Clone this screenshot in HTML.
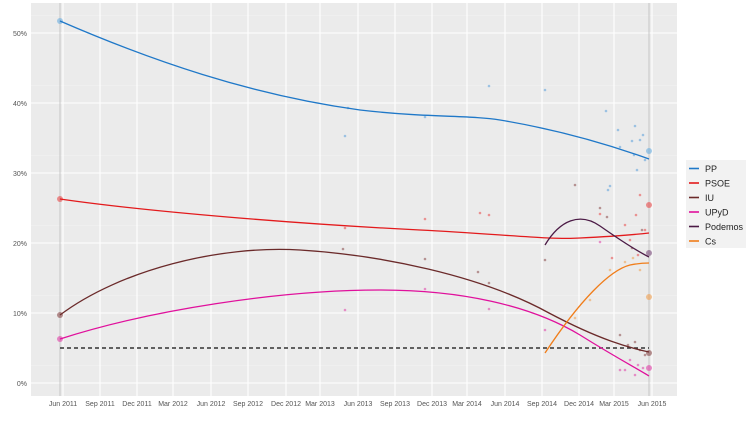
<!DOCTYPE html>
<html><head><meta charset="utf-8"><style>
body{margin:0;background:#fff;}
svg text{font-family:"Liberation Sans",sans-serif;}
</style></head><body>
<svg width="750" height="417" viewBox="0 0 750 417" xmlns="http://www.w3.org/2000/svg">
<rect x="31" y="3" width="646" height="393" fill="#ebebeb"/>
<g stroke="#f4f4f4" stroke-width="0.6">
<line x1="31" x2="677" y1="365.5" y2="365.5"/><line x1="31" x2="677" y1="295.5" y2="295.5"/><line x1="31" x2="677" y1="225.5" y2="225.5"/><line x1="31" x2="677" y1="155.5" y2="155.5"/><line x1="31" x2="677" y1="85.5" y2="85.5"/><line x1="31" x2="677" y1="15.5" y2="15.5"/>
</g>
<g stroke="#fff" stroke-width="1.1">
<line x1="31" x2="677" y1="383" y2="383"/><line x1="31" x2="677" y1="313" y2="313"/><line x1="31" x2="677" y1="243" y2="243"/><line x1="31" x2="677" y1="173" y2="173"/><line x1="31" x2="677" y1="103" y2="103"/><line x1="31" x2="677" y1="33" y2="33"/>
<line x1="63" x2="63" y1="3" y2="396"/><line x1="100" x2="100" y1="3" y2="396"/><line x1="137" x2="137" y1="3" y2="396"/><line x1="173" x2="173" y1="3" y2="396"/><line x1="211" x2="211" y1="3" y2="396"/><line x1="248" x2="248" y1="3" y2="396"/><line x1="286" x2="286" y1="3" y2="396"/><line x1="320" x2="320" y1="3" y2="396"/><line x1="358" x2="358" y1="3" y2="396"/><line x1="395" x2="395" y1="3" y2="396"/><line x1="432" x2="432" y1="3" y2="396"/><line x1="467" x2="467" y1="3" y2="396"/><line x1="505" x2="505" y1="3" y2="396"/><line x1="542" x2="542" y1="3" y2="396"/><line x1="579" x2="579" y1="3" y2="396"/><line x1="614" x2="614" y1="3" y2="396"/><line x1="652" x2="652" y1="3" y2="396"/>
</g>
<line x1="60" x2="60" y1="3" y2="396" stroke="#bbb" stroke-width="0.8"/>
<line x1="649" x2="649" y1="3" y2="396" stroke="#bbb" stroke-width="0.8"/>
<g font-size="7" fill="#555" text-anchor="end">
<text x="27" y="386">0%</text><text x="27" y="316">10%</text><text x="27" y="246">20%</text><text x="27" y="176">30%</text><text x="27" y="106">40%</text><text x="27" y="36">50%</text>
</g>
<g font-size="7" fill="#555" text-anchor="middle">
<text x="63" y="406">Jun 2011</text><text x="100" y="406">Sep 2011</text><text x="137" y="406">Dec 2011</text><text x="173" y="406">Mar 2012</text><text x="211" y="406">Jun 2012</text><text x="248" y="406">Sep 2012</text><text x="286" y="406">Dec 2012</text><text x="320" y="406">Mar 2013</text><text x="358" y="406">Jun 2013</text><text x="395" y="406">Sep 2013</text><text x="432" y="406">Dec 2013</text><text x="467" y="406">Mar 2014</text><text x="505" y="406">Jun 2014</text><text x="542" y="406">Sep 2014</text><text x="579" y="406">Dec 2014</text><text x="614" y="406">Mar 2015</text><text x="652" y="406">Jun 2015</text>
</g>
<g opacity="0.55">
<g fill="#5aa0dc"><circle cx="345" cy="136" r="1.3"/><circle cx="348" cy="108" r="1.3"/><circle cx="425" cy="117" r="1.3"/><circle cx="489" cy="86" r="1.3"/><circle cx="545" cy="90" r="1.3"/><circle cx="606" cy="111" r="1.3"/><circle cx="618" cy="130" r="1.3"/><circle cx="635" cy="126" r="1.3"/><circle cx="640" cy="140" r="1.3"/><circle cx="643" cy="135" r="1.3"/><circle cx="634" cy="155" r="1.3"/><circle cx="637" cy="170" r="1.3"/><circle cx="608" cy="190" r="1.3"/><circle cx="620" cy="147" r="1.3"/><circle cx="632" cy="141" r="1.3"/><circle cx="645" cy="160" r="1.3"/><circle cx="610" cy="186" r="1.3"/></g>
<g fill="#e84a4a"><circle cx="345" cy="228" r="1.3"/><circle cx="425" cy="219" r="1.3"/><circle cx="480" cy="213" r="1.3"/><circle cx="489" cy="215" r="1.3"/><circle cx="600" cy="214" r="1.3"/><circle cx="625" cy="225" r="1.3"/><circle cx="640" cy="195" r="1.3"/><circle cx="636" cy="215" r="1.3"/><circle cx="645" cy="230" r="1.3"/><circle cx="630" cy="240" r="1.3"/><circle cx="638" cy="255" r="1.3"/><circle cx="612" cy="258" r="1.3"/></g>
<g fill="#8a4a4a"><circle cx="343" cy="249" r="1.3"/><circle cx="425" cy="259" r="1.3"/><circle cx="478" cy="272" r="1.3"/><circle cx="489" cy="283" r="1.3"/><circle cx="545" cy="260" r="1.3"/><circle cx="600" cy="208" r="1.3"/><circle cx="607" cy="217" r="1.3"/><circle cx="575" cy="185" r="1.3"/><circle cx="620" cy="335" r="1.3"/><circle cx="635" cy="342" r="1.3"/><circle cx="645" cy="355" r="1.3"/><circle cx="628" cy="345" r="1.3"/><circle cx="640" cy="350" r="1.3"/><circle cx="642" cy="230" r="1.3"/><circle cx="632" cy="248" r="1.3"/></g>
<g fill="#e040a8"><circle cx="345" cy="310" r="1.3"/><circle cx="425" cy="289" r="1.3"/><circle cx="489" cy="309" r="1.3"/><circle cx="545" cy="330" r="1.3"/><circle cx="620" cy="370" r="1.3"/><circle cx="625" cy="370" r="1.3"/><circle cx="635" cy="375" r="1.3"/><circle cx="643" cy="368" r="1.3"/><circle cx="600" cy="242" r="1.3"/><circle cx="630" cy="360" r="1.3"/><circle cx="638" cy="365" r="1.3"/></g>
<g fill="#f0a050"><circle cx="575" cy="318" r="1.3"/><circle cx="610" cy="270" r="1.3"/><circle cx="625" cy="262" r="1.3"/><circle cx="640" cy="270" r="1.3"/><circle cx="590" cy="300" r="1.3"/><circle cx="633" cy="258" r="1.3"/></g>
</g>
<g opacity="0.6">
<circle cx="60" cy="21" r="3" fill="#6aaee0"/><circle cx="60" cy="199" r="3" fill="#e84a4a"/><circle cx="60" cy="315" r="3" fill="#8a4a4a"/><circle cx="60" cy="339" r="3" fill="#e040a8"/>
<circle cx="649" cy="151" r="3" fill="#6aaee0"/><circle cx="649" cy="205" r="3" fill="#e84a4a"/><circle cx="649" cy="253" r="3" fill="#7a4a7a"/><circle cx="649" cy="297" r="3" fill="#f0a050"/><circle cx="649" cy="353" r="3" fill="#8a4a4a"/><circle cx="649" cy="368" r="3" fill="#e040a8"/>
</g>
<line x1="60" x2="649" y1="348" y2="348" stroke="#333" stroke-width="1.4" stroke-dasharray="4,3"/>
<g fill="none" stroke-width="1.3">
<path d="M60 21 C150 60,250 95,360 110 C430 118,470 115,500 120 C560 130,610 145,649 159" stroke="#1f78c8"/>
<path d="M60 199 C150 212,300 224,420 230 C500 234,550 240,580 238 C620 236,640 234,649 233" stroke="#e31a1c"/>
<path d="M60 315 C120 270,220 245,300 250 C380 255,480 275,549 313 C600 340,630 348,649 352" stroke="#6b2a2a"/>
<path d="M60 339 C150 310,280 290,380 290 C460 290,530 305,580 335 C620 360,640 370,649 376" stroke="#e0109c"/>
<path d="M545 245 C560 220,580 212,600 226 C620 240,635 250,649 257" stroke="#4b1a45"/>
<path d="M545 353 C580 300,610 270,630 265 C640 263,645 263,649 263" stroke="#f07d1a"/>
</g>
<rect x="686" y="160" width="60" height="88" fill="#f2f2f2"/>
<g font-size="9" fill="#222">
<line x1="689" x2="699" y1="168.5" y2="168.5" stroke="#1f78c8" stroke-width="1.6"/><text x="705" y="172">PP</text>
<line x1="689" x2="699" y1="183" y2="183" stroke="#e31a1c" stroke-width="1.6"/><text x="705" y="186.5">PSOE</text>
<line x1="689" x2="699" y1="197.5" y2="197.5" stroke="#6b2a2a" stroke-width="1.6"/><text x="705" y="201">IU</text>
<line x1="689" x2="699" y1="212" y2="212" stroke="#e0109c" stroke-width="1.6"/><text x="705" y="215.5">UPyD</text>
<line x1="689" x2="699" y1="226.5" y2="226.5" stroke="#4b1a45" stroke-width="1.6"/><text x="705" y="230">Podemos</text>
<line x1="689" x2="699" y1="241" y2="241" stroke="#f07d1a" stroke-width="1.6"/><text x="705" y="244.5">Cs</text>
</g>
</svg>
</body></html>
